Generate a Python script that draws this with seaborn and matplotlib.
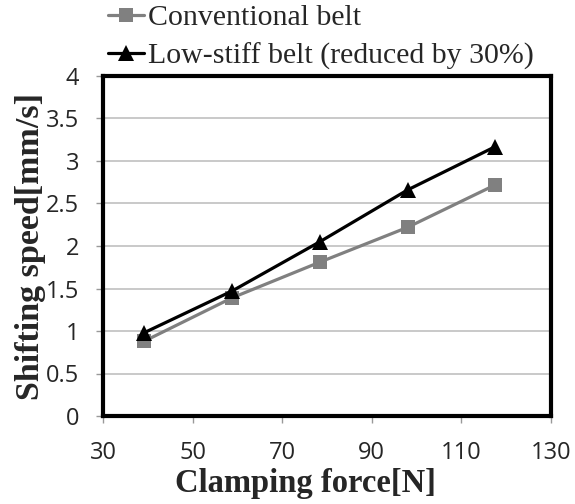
import matplotlib
matplotlib.use("Agg")
import matplotlib.pyplot as plt
import seaborn as sns

clamping_force = [39.2, 58.8, 78.4, 98.0, 117.6]
conventional = [0.88, 1.39, 1.81, 2.22, 2.72]
low_stiff = [0.98, 1.47, 2.05, 2.66, 3.17]
labels = ['Conventional belt', 'Low-stiff belt (reduced by 30%)']

sns.set_style("whitegrid")
plt.rcParams['font.family'] = ['Liberation Serif', 'DejaVu Serif']

fig = plt.figure(figsize=(5.75, 5.04), dpi=100)
ax = fig.add_axes([103 / 575, 88 / 504, 448 / 575, 340 / 504])

sns.lineplot(x=clamping_force, y=conventional, ax=ax, color='#808080', lw=2.3,
             marker='s', markersize=10, markeredgewidth=0, label=labels[0])
sns.lineplot(x=clamping_force, y=low_stiff, ax=ax, color='black', lw=2.3,
             marker='^', markersize=11, markeredgewidth=0, label=labels[1])

ax.set_xlim(30, 130)
ax.set_ylim(0, 4)
ax.set_xticks(range(30, 131, 20))
ax.set_yticks([0, 0.5, 1, 1.5, 2, 2.5, 3, 3.5, 4])
ax.set_yticklabels(['0', '0.5', '1', '1.5', '2', '2.5', '3', '3.5', '4'])
ax.grid(axis='x', visible=False)
ax.grid(axis='y', color='#c0c0c0', lw=1.2)
for lab in ax.get_xticklabels() + ax.get_yticklabels():
    lab.set_fontfamily('Open Sans')
    lab.set_fontsize(17)
ax.tick_params(axis='both', which='both', length=5, width=1, color='#999999',
               direction='out', bottom=True, left=True)
ax.tick_params(axis='y', pad=12)
ax.tick_params(axis='x', pad=13)
for sp in ax.spines.values():
    sp.set_color('black')
    sp.set_linewidth(3)

ax.set_xlabel('Clamping force[N]', fontsize=23.5, fontweight='bold')
ax.xaxis.set_label_coords(0.451, -0.152)
ax.set_ylabel('Shifting speed[mm/s]', fontsize=24.5, fontweight='bold', labelpad=0)

ax.legend_.remove()
handles, lbls = ax.get_legend_handles_labels()
fig.legend(handles, lbls, loc='upper left', bbox_to_anchor=(104 / 575, 1.0),
           frameon=False, fontsize=21.5, handlelength=1.2, handletextpad=0.12,
           labelspacing=0.38, borderaxespad=0, borderpad=0.15)

fig.savefig('out.png', dpi=100)
